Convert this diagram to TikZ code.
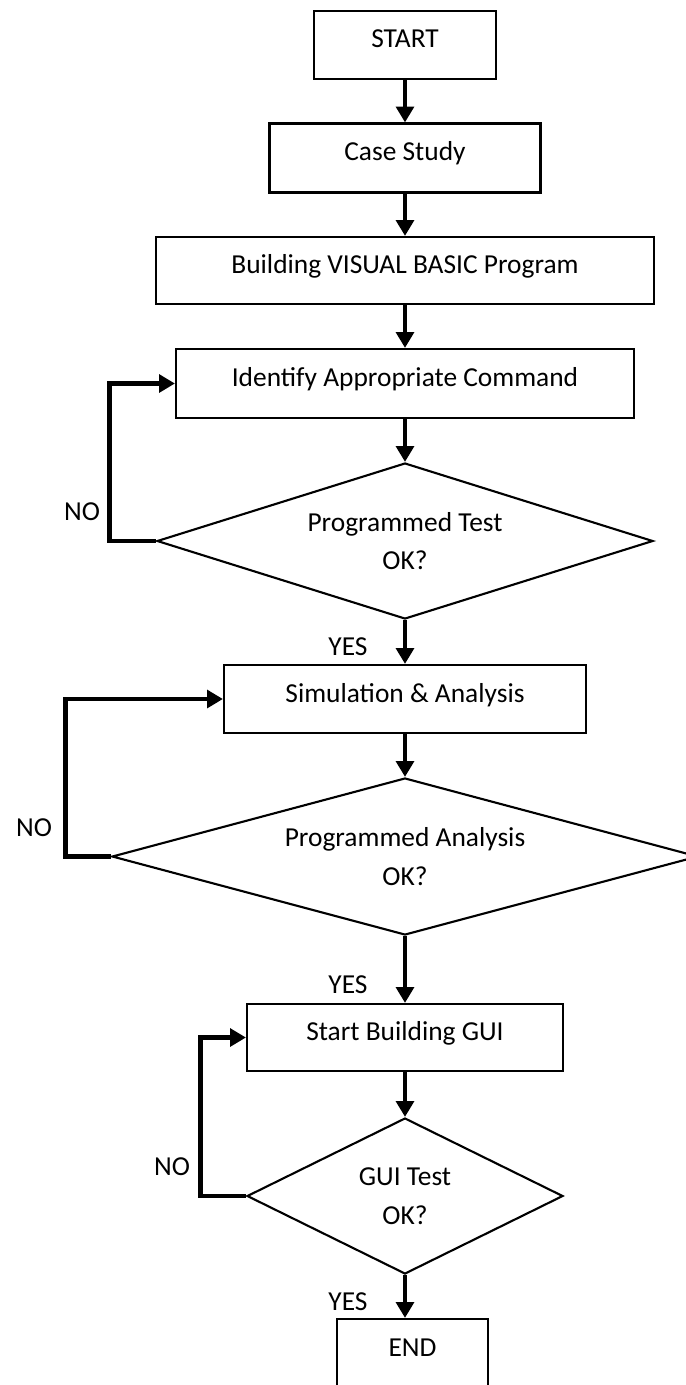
\documentclass[tikz,border=0pt]{standalone}
\usepackage{fontspec}
\setmainfont{Carlito}
\usetikzlibrary{arrows.meta, shapes.geometric}

\begin{document}
\begin{tikzpicture}[font=\fontsize{15.6}{22}\selectfont,
    box/.style={draw, line width=1.2pt, inner sep=0pt, align=center, text height=0.7em, text depth=0.36em},
    decision/.style={draw, diamond, line width=1.2pt, inner sep=0pt, align=center},
    flow/.style={line width=2.8pt, -{Triangle[length=9pt,width=10pt]}},
    lbl/.style={inner sep=0pt}]
                \useasboundingbox (0,0) rectangle (13.72,-27.70);
                % main column
                \node[box, minimum width=3.64cm, minimum height=1.36cm] (start) at (8.10,-0.90) {START};
                \node[box, minimum width=5.42cm, minimum height=1.38cm] (case) at (8.10,-3.16) {Case Study};
                \node[box, minimum width=9.96cm, minimum height=1.34cm] (build) at (8.10,-5.41) {Building VISUAL BASIC Program};
                \node[box, minimum width=9.16cm, minimum height=1.38cm] (ident) at (8.10,-7.67) {Identify Appropriate Command};
                \node[decision, aspect=3.2, minimum width=9.92cm, minimum height=3.12cm] (test1) at (8.10,-10.82) {Programmed Test\\OK?};
                \node[box, minimum width=7.24cm, minimum height=1.36cm] (sim) at (8.10,-13.98) {Simulation \& Analysis};
                \node[decision, aspect=3.7, minimum width=11.72cm, minimum height=3.14cm] (test2) at (8.10,-17.13) {Programmed Analysis\\OK?};
                \node[box, minimum width=6.32cm, minimum height=1.34cm] (gui) at (8.10,-20.75) {Start Building GUI};
                \node[decision, aspect=2.0, minimum width=6.32cm, minimum height=3.12cm] (test3) at (8.10,-23.92) {GUI Test\\OK?};
                \node[box, minimum width=3.02cm, minimum height=1.36cm] (finish) at (8.25,-27.06) {END};
                % labels
                \node[lbl] (no1) at (1.64,-10.24) {NO};
                \node[lbl] (no2) at (0.68,-16.56) {NO};
                \node[lbl] (no3) at (3.44,-23.34) {NO};
                \node[lbl] (yes1) at (6.96,-12.94) {YES};
                \node[lbl] (yes2) at (6.96,-19.70) {YES};
                \node[lbl] (yes3) at (6.96,-26.04) {YES};
                % arrows
                \draw[flow] (start.south) -- (case.north);
                \draw[flow] (case.south) -- (build.north);
                \draw[flow] (build.south) -- (ident.north);
                \draw[flow] (ident.south) -- (test1.north);
                \draw[flow] (test1.south) -- (sim.north);
                \draw[flow] (sim.south) -- (test2.north);
                \draw[flow] (test2.south) -- (gui.north);
                \draw[flow] (gui.south) -- (test3.north);
                \draw[flow] (test3.south) -- (test3.south |- finish.north);
                % loops back
                \draw[flow] (test1.west) -- ++(-0.92,0) |- (ident.west);
                \draw[flow] (test2.west) -- ++(-0.90,0) |- (sim.west);
                \draw[flow] (test3.west) -- ++(-0.90,0) |- (gui.west);
            \end{tikzpicture}
\end{document}
